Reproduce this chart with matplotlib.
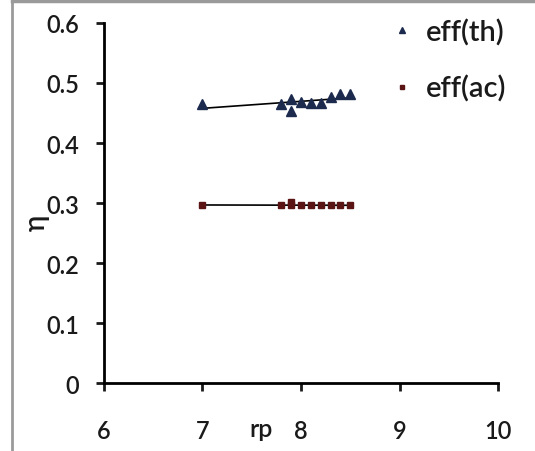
import numpy as np
import matplotlib
matplotlib.use("Agg")
import matplotlib.pyplot as plt

# pressure ratio and efficiency readings
rp_th = [7.0, 7.8, 7.9, 7.9, 8.0, 8.1, 8.2, 8.3, 8.4, 8.5]
eff_th = [0.465, 0.465, 0.473, 0.453, 0.468, 0.466, 0.466, 0.476, 0.482, 0.482]

rp_ac = [7.0, 7.8, 7.9, 7.9, 8.0, 8.1, 8.2, 8.3, 8.4, 8.5]
eff_ac = [0.296, 0.296, 0.301, 0.296, 0.296, 0.296, 0.296, 0.296, 0.296, 0.296]

x_ticks = [6, 7, 8, 9, 10]
y_ticks = [0, 0.1, 0.2, 0.3, 0.4, 0.5, 0.6]
y_tick_labels = ["0", "0.1", "0.2", "0.3", "0.4", "0.5", "0.6"]

plt.rcParams["font.family"] = ["Lato", "DejaVu Sans"]
plt.rcParams["font.weight"] = "semibold"

fig = plt.figure(figsize=(5.35, 4.52), dpi=100)
ax = fig.add_axes([0.194, 0.150, 0.737, 0.797])

th_color = "#1c2a4e"
ac_color = "#5a1414"
txt = "#1a1a1a"

ax.plot(rp_th, eff_th, "^", color=th_color, markersize=6.5, label="eff(th)", zorder=3)
ax.plot(rp_ac, eff_ac, "s", color=ac_color, markersize=5, label="eff(ac)", zorder=3)

# linear trendlines
for xs, ys in [(rp_th, eff_th), (rp_ac, eff_ac)]:
    k, b = np.polyfit(xs, ys, 1)
    xl = np.array([min(xs), max(xs)])
    ax.plot(xl, k * xl + b, color="black", linewidth=1.2, zorder=2)

ax.set_xlim(6, 10)
ax.set_ylim(0, 0.6)
ax.set_xticks(x_ticks)
ax.set_yticks(y_ticks)
ax.set_yticklabels(y_tick_labels)

for s in ["top", "right"]:
    ax.spines[s].set_visible(False)
for s in ["left", "bottom"]:
    ax.spines[s].set_linewidth(2)
ax.tick_params(axis="both", length=6, width=2, labelsize=17, colors=txt)
ax.tick_params(axis="x", pad=20)
ax.tick_params(axis="y", pad=12)

fig.text(0.488, 0.050, "rp", fontsize=18, ha="center", va="center", color=txt)
fig.text(0.068, 0.508, "η", fontsize=20, rotation=90, ha="center", va="center", color=txt)

ax.legend(loc="upper right", bbox_to_anchor=(0.995, 1.015), bbox_transform=fig.transFigure,
          frameon=False, fontsize=21, handletextpad=0.35, labelspacing=1.0,
          markerscale=0.6, handlelength=0.9, labelcolor=txt)

# outer frame
fig.add_artist(plt.Rectangle((0.022, -0.01), 1.2, 1.006, transform=fig.transFigure,
                             fill=False, edgecolor="#9a9a9a", linewidth=2, clip_on=False))
fig.add_artist(plt.Line2D([0.022, 1.0], [0.995, 0.995], transform=fig.transFigure,
                          color="#9a9a9a", linewidth=2.5))

fig.savefig("out.png", dpi=100)
